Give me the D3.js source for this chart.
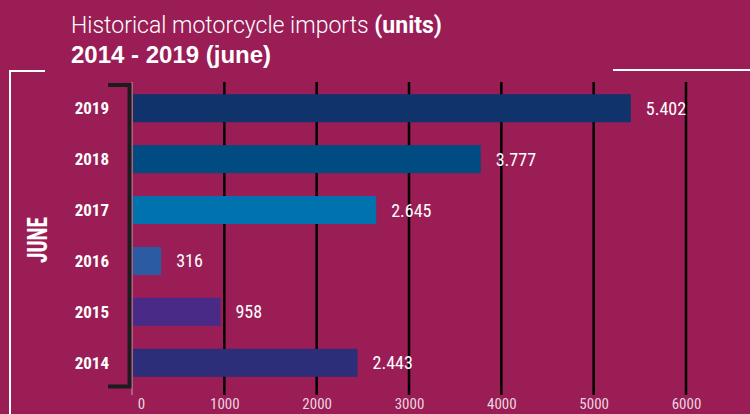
<!DOCTYPE html>
<html>
<head>
<meta charset="utf-8">
<script src="https://cdn.jsdelivr.net/npm/d3@7"></script>
<style>
  body { margin: 0; background: #9a1d56; }
  svg { display: block; }
</style>
</head>
<body>
<svg id="chart" width="750" height="414"></svg>
<script>
  // data
  var years = ["2019", "2018", "2017", "2016", "2015", "2014"];
  var imports = [5402, 3777, 2645, 316, 958, 2443];
  var valueLabels = ["5.402", "3.777", "2.645", "316", "958", "2.443"];
  var barColors = ["#10336b", "#004b82", "#0072ae", "#2a5ba3", "#4a2a87", "#2d2e7a"];
  var ticks = [0, 1000, 2000, 3000, 4000, 5000, 6000];

  var svg = d3.select("#chart");
  var condensed = "'Liberation Sans Narrow', 'Roboto Condensed', Roboto, sans-serif";

  var x = d3.scaleLinear().domain([0, 6000]).range([132, 686]);
  var y = d3.scaleBand().domain(years).range([83, 388]).paddingInner(0.45).paddingOuter(0.22);

  // title
  var title = svg.append("text")
    .attr("x", 71).attr("y", 33)
    .attr("fill", "#fff")
    .style("font-family", "Roboto, 'Liberation Sans', sans-serif")
    .style("font-size", "23px");
  title.append("tspan").style("font-weight", 300).text("Historical motorcycle imports ");
  title.append("tspan").style("font-weight", 700).text("(units)");
  svg.append("text")
    .attr("x", 71).attr("y", 63)
    .attr("fill", "#fff")
    .style("font-family", "'Liberation Sans', Arial, sans-serif")
    .style("font-weight", 700)
    .style("font-size", "24px")
    .text("2014 - 2019 (june)");

  // white frame lines
  svg.append("path")
    .attr("d", "M10,414 V71 H45")
    .attr("fill", "none").attr("stroke", "#fff").attr("stroke-width", 2);
  svg.append("line")
    .attr("x1", 613).attr("x2", 750).attr("y1", 70).attr("y2", 70)
    .attr("stroke", "#fff").attr("stroke-width", 2);

  // grid lines
  svg.append("g").selectAll("line")
    .data(ticks.slice(1))
    .enter().append("line")
    .attr("x1", function(d) { return x(d); })
    .attr("x2", function(d) { return x(d); })
    .attr("y1", 82).attr("y2", 395)
    .attr("stroke", "#000").attr("stroke-width", 2.5);

  // thin zero line
  svg.append("line")
    .attr("x1", x(0)).attr("x2", x(0)).attr("y1", 82).attr("y2", 395)
    .attr("stroke", "#c9a0b4").attr("stroke-width", 1);

  // bars
  svg.append("g").selectAll("rect")
    .data(imports)
    .enter().append("rect")
    .attr("x", x(0) + 1)
    .attr("y", function(d, i) { return y(years[i]); })
    .attr("width", function(d) { return x(d) - x(0) - 1; })
    .attr("height", y.bandwidth())
    .attr("fill", function(d, i) { return barColors[i]; });

  // value labels
  svg.append("g").selectAll("text")
    .data(imports)
    .enter().append("text")
    .attr("x", function(d) { return x(d) + 15; })
    .attr("y", function(d, i) { return y(years[i]) + y.bandwidth() / 2; })
    .attr("dy", "0.36em")
    .attr("fill", "#fff")
    .style("font-family", condensed)
    .style("font-size", "18px")
    .text(function(d, i) { return valueLabels[i]; });

  // black bracket
  svg.append("path")
    .attr("d", "M108,85 H129.5 V386.5 H108")
    .attr("fill", "none").attr("stroke", "#1c1c1c").attr("stroke-width", 4);

  // year labels
  svg.append("g").selectAll("text")
    .data(years)
    .enter().append("text")
    .attr("x", 109)
    .attr("y", function(d) { return y(d) + y.bandwidth() / 2; })
    .attr("dy", "0.36em")
    .attr("text-anchor", "end")
    .attr("fill", "#fff")
    .style("font-family", condensed)
    .style("font-weight", 700)
    .style("font-size", "17px")
    .text(function(d) { return d; });

  // JUNE label
  svg.append("text")
    .attr("transform", "translate(47,240) rotate(-90)")
    .attr("text-anchor", "middle")
    .attr("fill", "#fff")
    .attr("textLength", 46)
    .attr("lengthAdjust", "spacingAndGlyphs")
    .style("font-family", condensed)
    .style("font-weight", 700)
    .style("font-size", "27px")
    .text("JUNE");

  // x axis labels
  var xAxis = d3.axisBottom(x).tickValues(ticks).tickSize(0).tickPadding(0).tickFormat(d3.format("d"));
  var ax = svg.append("g").attr("transform", "translate(0,398)").call(xAxis);
  ax.select(".domain").remove();
  ax.selectAll("text")
    .attr("dy", "0.71em")
    .attr("fill", "#ecd3df")
    .style("font-family", condensed)
    .style("font-size", "15px");
  ax.selectAll("text").filter(function(d) { return d === 0; }).attr("x", 9);
</script>
</body>
</html>
